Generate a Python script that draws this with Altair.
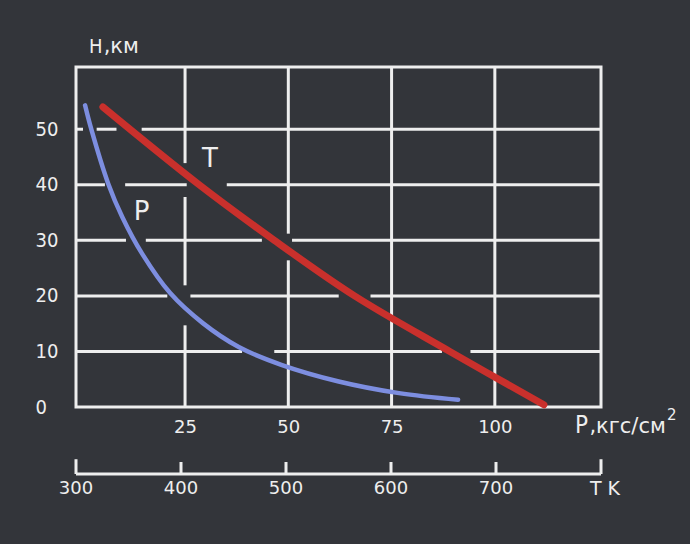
import altair as alt
import pandas as pd

# Pressure curve: height H (km) against pressure P (kgf/cm^2)
p_height = [54.3, 50.0, 40.2, 34.2, 27.6, 20.5, 15.1, 10.8, 7.6, 4.6, 2.5, 1.3]
p_pressure = [0.8, 2.3, 6.4, 9.8, 14.6, 21.4, 29.3, 38.0, 48.3, 62.2, 76.8, 91.1]

# Temperature curve: height H (km) against temperature T (K)
t_height = [54.0, 40.0, 30.0, 20.0, 10.0, 0.4]
t_kelvin = [325.6, 417.3, 488.9, 565.3, 656.0, 745.6]

# Axis ticks
h_ticks = [0, 10, 20, 30, 40, 50]
p_ticks = [25, 50, 75, 100]
t_ticks = [300, 400, 500, 600, 700]
t_marks = [300, 400, 500, 600, 700, 800]

# Hand-drawn grid: horizontal pieces (H, P from, P to), broken where curves cross
grid_h_level = [50, 50, 50, 40, 40, 40, 30, 30, 30, 20, 20, 20, 10, 10, 10]
grid_h_from = [-1.4, 3.6, 14.5, -1.4, 10.5, 35.1, -1.4, 15.5, 50.9, -1.4, 26.3, 69.9, -1.4, 46.6, 94.1]
grid_h_to = [0.3, 8.4, 125.7, 5.6, 25.4, 125.7, 10.7, 43.6, 125.7, 20.7, 62.2, 125.7, 38.8, 87.2, 125.7]

# Vertical pieces (P, H from, H to)
grid_v_at = [25, 25, 25, 50, 50, 75, 100]
grid_v_from = [0, 21.9, 43.9, 0, 31.2, 0, 0]
grid_v_to = [14.7, 37.8, 61.2, 26.4, 61.2, 61.2, 61.2]

P_DOMAIN = [-1.4, 125.7]
T_DOMAIN = [300, 800]
H_DOMAIN = [0, 61.2]

BG = "#33353a"
INK = "#eeeeee"
RED = "#c9302c"
BLUE = "#7d8ee0"
FONT = "DejaVu Sans"
NARROW = "DejaVu Sans Condensed, DejaVu Sans"

xs = alt.Scale(domain=P_DOMAIN, nice=False, zero=False)
ts = alt.Scale(domain=T_DOMAIN, nice=False, zero=False)
ys = alt.Scale(domain=H_DOMAIN, nice=False, zero=False)

# One axis definition per shared scale, repeated on every layer so they merge cleanly
X_AXIS = alt.Axis(values=p_ticks, title=None, grid=False, domain=False, ticks=False,
                  labelFont=FONT, labelFontSize=18, labelColor=INK, labelPadding=11)
Y_AXIS = alt.Axis(values=h_ticks, title=None, grid=False, domain=False, ticks=False,
                  labelFont=NARROW, labelFontSize=20, labelColor=INK,
                  labelAlign="left", labelBaseline="middle", labelPadding=41)


def px(field):
    return alt.X(field, type="quantitative", scale=xs, axis=X_AXIS)


def py(field):
    return alt.Y(field, type="quantitative", scale=ys, axis=Y_AXIS)


def tx(field):
    return alt.X(field, type="quantitative", scale=ts, axis=None)


pressure = pd.DataFrame({"P": p_pressure, "H": p_height})
temperature = pd.DataFrame({"T": t_kelvin, "H": t_height})
grid_h = pd.DataFrame({"H": grid_h_level, "p1": grid_h_from, "p2": grid_h_to})
grid_v = pd.DataFrame({"P": grid_v_at, "h1": grid_v_from, "h2": grid_v_to})

# --- layers on the pressure scale ---
hgrid = alt.Chart(grid_h).mark_rule(color=INK, strokeWidth=3).encode(
    x=px("p1"), x2="p2", y=py("H"),
)

vgrid = alt.Chart(grid_v).mark_rule(color=INK, strokeWidth=3).encode(
    x=px("P"), y=py("h1"), y2="h2",
)

p_line = alt.Chart(pressure).mark_line(color=BLUE, strokeWidth=4.5, interpolate="catmull-rom",
                                       strokeCap="round").encode(
    x=px("P"), y=py("H"), order=alt.Order("P:Q"),
)


def label(text, p, h, size, align="left", font=FONT):
    df = pd.DataFrame({"P": [p], "H": [h], "t": [text]})
    return alt.Chart(df).mark_text(color=INK, font=font, fontSize=size, align=align,
                                   baseline="alphabetic").encode(
        x=px("P"), y=py("H"), text="t:N",
    )


texts = [
    label("T", 31.0, 43.2, 26, align="center"),
    label("P", 14.5, 33.7, 26, align="center"),
    label("H", 3.4, 63.7, 20, align="center", font=NARROW),
    label(",км", 5.3, 63.7, 21),
    label("P", 119.4, -4.68, 24, font=NARROW),
    label(",кгс/см", 122.9, -4.68, 21),
    label("2", 141.7, -2.34, 15),
]

p_layer = alt.layer(hgrid, vgrid, p_line, *texts)

# --- layers on the temperature scale ---
t_line = alt.Chart(temperature).mark_line(color=RED, strokeWidth=7, interpolate="catmull-rom",
                                          strokeCap="round").encode(
    x=tx("T"), y=py("H"), order=alt.Order("T:Q"),
)

T_AXIS_H = -12.06
t_axis_line = alt.Chart(
    pd.DataFrame({"t1": [T_DOMAIN[0]], "t2": [T_DOMAIN[1]], "H": [T_AXIS_H]})
).mark_rule(color=INK, strokeWidth=3).encode(
    x=tx("t1"), x2="t2", y=py("H"),
)

t_tick_df = pd.DataFrame({"T": t_marks, "h1": [T_AXIS_H] * len(t_marks),
                          "h2": [-9.4 if t in (300, 800) else -9.9 for t in t_marks]})
t_tick_rules = alt.Chart(t_tick_df).mark_rule(color=INK, strokeWidth=3).encode(
    x=tx("T"), y=py("h1"), y2="h2",
)

t_label_df = pd.DataFrame({"T": t_ticks, "H": [-14.8] * len(t_ticks),
                           "t": [str(v) for v in t_ticks]})
t_labels = alt.Chart(t_label_df).mark_text(color=INK, font=FONT, fontSize=18, align="center",
                                           baseline="middle").encode(
    x=tx("T"), y=py("H"), text="t:N",
)

t_title = alt.Chart(pd.DataFrame({"T": [789.5], "H": [-14.8], "t": ["T  K"]})).mark_text(
    color=INK, font=FONT, fontSize=19, align="left", baseline="middle").encode(
    x=tx("T"), y=py("H"), text="t:N",
)

t_layer = alt.layer(t_line, t_axis_line, t_tick_rules, t_labels, t_title)

chart = (
    alt.layer(p_layer, t_layer)
    .resolve_scale(x="independent")
    .properties(
        width=525,
        height=340,
        background=BG,
        padding={"left": 76, "top": 67, "right": 89, "bottom": 137},
        autosize=alt.AutoSizeParams(type="none"),
    )
    .configure_view(stroke=INK, strokeWidth=3)
)

chart.save("out.html", embed_options={"renderer": "svg", "actions": False})
